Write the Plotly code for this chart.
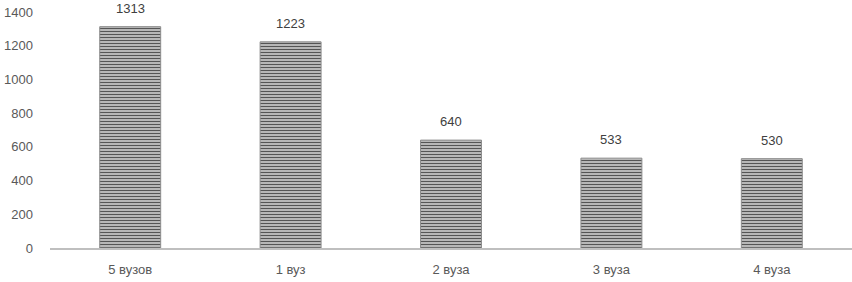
import plotly.graph_objects as go

categories = ["5 вузов", "1 вуз", "2 вуза", "3 вуза", "4 вуза"]
values = [1313, 1223, 640, 533, 530]
y_ticks = [0, 200, 400, 600, 800, 1000, 1200, 1400]

fig = go.Figure(go.Bar(
    x=categories, y=values, width=0.38,
    cliponaxis=False,
    marker=dict(
        color="#d0d0d0",
        line=dict(color="#8c8c8c", width=1),
        pattern=dict(shape="-", size=3, solidity=0.5, fgcolor="#555555", bgcolor="#d8d8d8", fillmode="replace"),
    ),
))

for c, v in zip(categories, values):
    fig.add_annotation(x=c, y=v, text=str(v), showarrow=False, yanchor="bottom",
                       yshift=9, font=dict(size=13, color="#404040"))

fig.update_layout(
    width=852, height=282,
    margin=dict(l=50, r=0, t=12, b=34),
    paper_bgcolor="white", plot_bgcolor="white",
    font=dict(family="Liberation Sans, Arial, sans-serif", size=13, color="#595959"),
    showlegend=False,
    xaxis=dict(showgrid=False, showline=True, linecolor="#bfbfbf", linewidth=2,
               ticks="", tickfont=dict(size=13, color="#595959"), ticklabelstandoff=8,
               range=[-0.5, 4.5]),
    yaxis=dict(range=[0, 1400], tickvals=y_ticks, showgrid=False, zeroline=False,
               showline=False, ticks="", ticklabelstandoff=16,
               tickfont=dict(size=13, color="#595959")),
)

fig.write_html("out.html")
